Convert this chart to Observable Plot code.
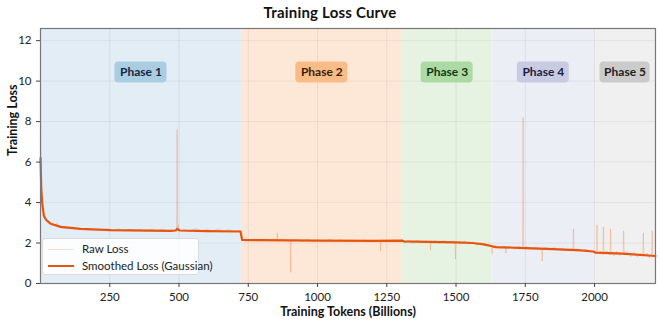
<!DOCTYPE html>
<html><head><meta charset="utf-8">
<script src="https://cdn.jsdelivr.net/npm/d3@7"></script>
<script src="https://cdn.jsdelivr.net/npm/@observablehq/plot@0.6"></script>
<style>
body{margin:0;background:#fff;font-family:Lato,"Noto Sans",sans-serif;}
#wrap{position:relative;width:660px;height:322px;overflow:hidden;}
#title{height:22px;line-height:25px;text-align:center;font-weight:bold;font-size:15px;color:#111;letter-spacing:0.2px;}
#legend{position:absolute;left:42px;top:238px;width:155px;height:35px;background:rgba(255,255,255,0.85);border:1px solid #dcdcdc;border-radius:3px;font-size:11.5px;color:#222;}
#legend .row{position:absolute;left:0;height:16px;line-height:16px;white-space:nowrap;}
#legend .sw{position:absolute;left:5px;top:8px;width:26px;}
#legend .lab{position:absolute;left:39px;top:0;}
</style></head><body>
<div id="wrap"><div id="title">Training Loss Curve</div><div id="chart"></div><div id="legend"></div></div>
<script>
// ---- data ----
const phaseNames = ["Phase 1", "Phase 2", "Phase 3", "Phase 4", "Phase 5"];
const phaseStart = [0, 725, 1306, 1630, 2000];
const phaseEnd = [725, 1306, 1630, 2000, 2220];
const phaseBg = ["#e3edf6", "#fde8d8", "#e6f3e2", "#eceef6", "#f0f0f0"];
const phaseBox = ["#a6cbe0", "#f9b982", "#aad8a0", "#c6c8e0", "#c8c8c8"];
const phaseText = ["#142641", "#3a1a05", "#0d3a10", "#1c1d42", "#222222"];
const phaseLabelLoss = 10.42;

const smoothTokens = [0, 3, 6, 12, 20, 37, 73, 145, 254, 470, 488, 494, 502, 600, 722, 728, 800, 1000, 1200, 1306, 1312, 1400, 1500, 1560, 1600, 1630, 1642, 1750, 1850, 1950, 1995, 2003, 2100, 2220];
const smoothLoss =   [6.2, 4.6, 4.0, 3.35, 3.15, 2.95, 2.8, 2.7, 2.64, 2.6, 2.62, 2.7, 2.62, 2.59, 2.57, 2.15, 2.14, 2.12, 2.11, 2.12, 2.08, 2.06, 2.03, 2.0, 1.93, 1.84, 1.8, 1.75, 1.7, 1.64, 1.58, 1.53, 1.48, 1.36];

const rawTokens = [
  0, 1, 2, 4, 6, 10, 15, 25, 40, 58, 60, 62, 80, 100, 120, 140, 160, 180, 200, 220, 240, 260, 280, 300, 320, 340, 360, 380, 400, 420, 440, 460, 480, 491, 493, 495, 497, 499, 520, 540, 560, 580, 600, 620, 640, 660, 680, 700, 722,
  726, 745, 765, 785, 805, 825, 845, 853, 855, 857, 875, 895, 901, 903, 905, 925, 945, 965, 985, 1005, 1025, 1045, 1065, 1085, 1105, 1125, 1145, 1165, 1185, 1205, 1226, 1228, 1230, 1250, 1270, 1290, 1306,
  1315, 1330, 1345, 1360, 1375, 1390, 1406, 1408, 1410, 1425, 1440, 1455, 1470, 1485, 1496, 1498, 1500, 1515, 1530, 1545, 1560, 1575, 1590, 1605, 1618, 1628, 1630, 1632,
  1645, 1660, 1672, 1678, 1680, 1682, 1695, 1710, 1725, 1740, 1742, 1744, 1755, 1770, 1785, 1800, 1809, 1811, 1813, 1825, 1840, 1855, 1870, 1885, 1900, 1915, 1922, 1924, 1926, 1940, 1955, 1970, 1985, 1997,
  2003, 2007, 2009, 2011, 2020, 2030, 2032, 2034, 2045, 2056, 2058, 2060, 2070, 2080, 2092, 2103, 2105, 2107, 2118, 2130, 2142, 2155, 2165, 2174, 2176, 2178, 2190, 2198, 2206, 2208, 2210, 2220];
const rawLoss = [
  10.5, 7.8, 6.0, 4.6, 4.0, 3.5, 3.25, 3.05, 2.92, 2.82, 3.0, 2.8, 2.74, 2.7, 2.72, 2.66, 2.7, 2.64, 2.68, 2.62, 2.7, 2.6, 2.7, 2.6, 2.68, 2.6, 2.67, 2.58, 2.68, 2.6, 2.68, 2.58, 2.66, 2.6, 7.6, 2.62, 2.9, 2.6, 2.66, 2.58, 2.72, 2.58, 2.68, 2.56, 2.7, 2.58, 2.66, 2.56, 2.62,
  2.15, 2.1, 2.18, 2.1, 2.18, 2.1, 2.16, 2.12, 2.5, 2.12, 2.18, 2.1, 2.12, 0.55, 2.12, 2.16, 2.08, 2.18, 2.08, 2.15, 2.08, 2.18, 2.08, 2.16, 2.07, 2.15, 2.07, 2.15, 2.07, 2.14, 2.1, 1.6, 2.12, 2.07, 2.15, 2.08, 2.14,
  2.02, 2.12, 1.98, 2.12, 2.0, 2.1, 2.05, 1.65, 2.05, 2.12, 1.98, 2.14, 2.0, 2.1, 2.05, 1.2, 2.05, 1.95, 2.1, 1.95, 2.05, 1.9, 2.0, 1.86, 1.95, 1.85, 1.45, 1.84,
  1.88, 1.74, 1.85, 1.78, 1.5, 1.78, 1.86, 1.72, 1.84, 1.74, 8.2, 1.76, 1.82, 1.7, 1.8, 1.7, 1.76, 1.1, 1.74, 1.8, 1.68, 1.78, 1.66, 1.76, 1.64, 1.72, 1.66, 2.7, 1.66, 1.72, 1.6, 1.7, 1.56, 1.62,
  1.45, 1.6, 2.9, 1.5, 1.62, 1.42, 2.8, 1.5, 1.62, 1.4, 2.7, 1.5, 1.36, 1.6, 1.38, 1.55, 2.6, 1.42, 1.58, 1.32, 1.55, 1.3, 1.5, 1.35, 2.5, 1.4, 1.5, 1.25, 1.45, 2.6, 1.3, 1.4];

const xTicks = [250, 500, 750, 1000, 1250, 1500, 1750, 2000];
const yTicks = [0, 2, 4, 6, 8, 10, 12];
const seriesNames = ["Raw Loss", "Smoothed Loss (Gaussian)"];
const seriesColors = ["#f08a4b", "#e6550d"];
const xLabel = "Training Tokens (Billions)";
const yLabel = "Training Loss";

// ---- tables ----
const phases = phaseNames.map((name, i) => ({name, start: phaseStart[i], end: phaseEnd[i], bg: phaseBg[i], box: phaseBox[i], tc: phaseText[i], mid: (phaseStart[i] + phaseEnd[i]) / 2}));
const smooth = smoothTokens.map((t, i) => ({t, v: smoothLoss[i]}));
const raw = rawTokens.map((t, i) => ({t, v: rawLoss[i]}));

const boxes = Plot.dot(phases, {
  x: "mid", y: () => phaseLabelLoss, r: 0,
  render(index, scales, values) {
    const g = d3.create("svg:g");
    for (const i of index) {
      const w = phases[i].name === "Phase 5" ? 50 : 52;
      g.append("rect").attr("x", values.x[i] - w / 2).attr("y", values.y[i] - 10.5)
        .attr("width", w).attr("height", 21).attr("rx", 4).attr("fill", phases[i].box).attr("fill-opacity", 0.95);
    }
    return g.node();
  }
});

const chart = Plot.plot({
  width: 660, height: 300,
  marginTop: 6, marginLeft: 40, marginRight: 5, marginBottom: 39,
  x: {domain: [0, 2220]},
  y: {domain: [0, 12.6]},
  style: {fontFamily: "Lato, 'Noto Sans', sans-serif", fontSize: "11.5px", color: "#222", background: "transparent"},
  marks: [
    Plot.rect(phases, {x1: "start", x2: "end", fill: "bg"}),
    Plot.gridX(xTicks, {stroke: "#888", strokeOpacity: 0.15}),
    Plot.gridY(yTicks, {stroke: "#888", strokeOpacity: 0.12}),
    Plot.line(raw, {x: "t", y: "v", stroke: seriesColors[0], strokeOpacity: 0.42, strokeWidth: 0.8}),
    Plot.line(smooth, {x: "t", y: "v", stroke: seriesColors[1], strokeWidth: 2.2, curve: "linear"}),
    boxes,
    Plot.text(phases, {x: "mid", y: () => phaseLabelLoss, text: "name", fill: "tc", fontWeight: "bold", fontSize: 12}),
    Plot.frame({stroke: "#777", strokeWidth: 1.2}),
    Plot.axisX(xTicks, {tickSize: 4, label: null, stroke: "#444", tickFormat: d => String(d)}),
    Plot.axisY(yTicks, {tickSize: 4, label: null, stroke: "#444"}),
    Plot.text([xLabel], {frameAnchor: "bottom", lineAnchor: "middle", dy: 28, text: d => d, fontWeight: "bold", fontSize: 12.5, fill: "#111"}),
    Plot.text([yLabel], {frameAnchor: "left", lineAnchor: "middle", dx: -28, rotate: -90, text: d => d, fontWeight: "bold", fontSize: 12.5, fill: "#111"})
  ]
});
document.getElementById("chart").appendChild(chart);

// ---- legend ----
const leg = d3.select("#legend");
seriesNames.forEach((name, i) => {
  const row = leg.append("div").attr("class", "row").style("top", (2 + i * 17) + "px").style("width", "155px");
  row.append("div").attr("class", "sw")
    .style("border-top", (i === 0 ? "1px" : "2px") + " solid " + seriesColors[i])
    .style("opacity", i === 0 ? 0.25 : 1)
    .style("top", (i === 0 ? 8 : 7) + "px");
  row.append("div").attr("class", "lab").text(name);
});
</script>
</body></html>
